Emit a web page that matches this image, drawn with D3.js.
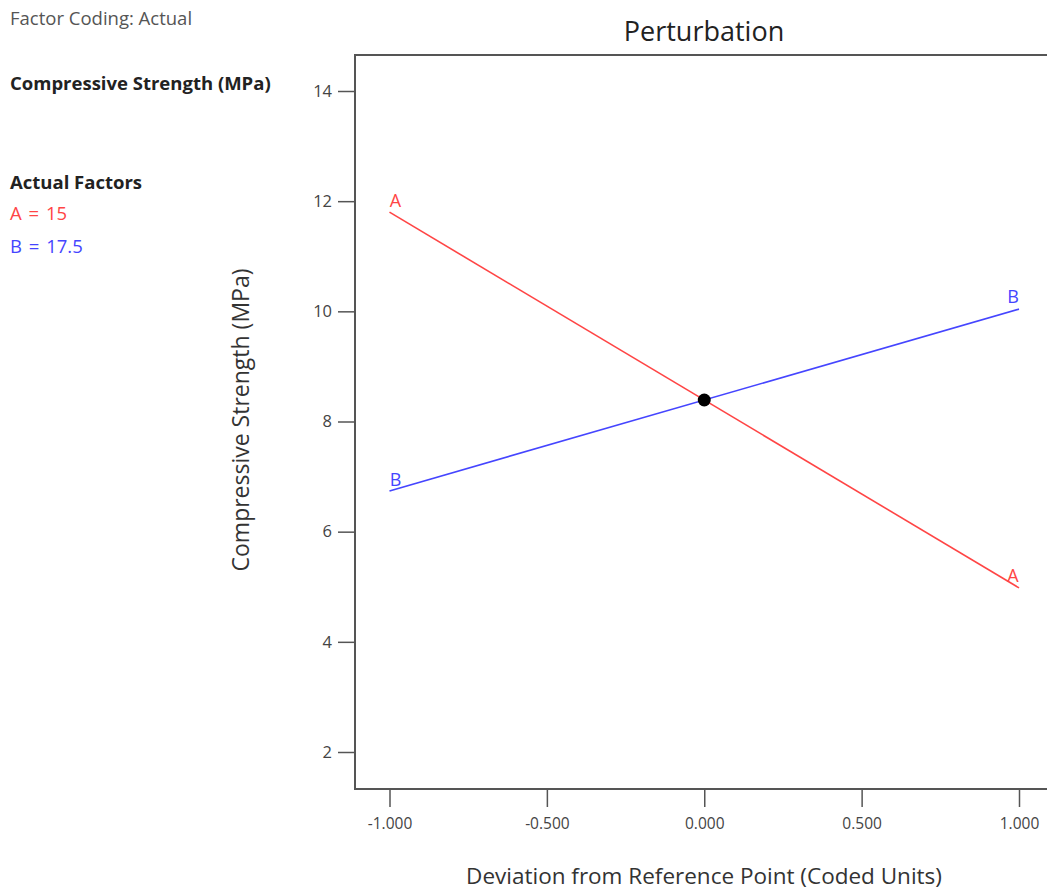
<!DOCTYPE html>
<html><head><meta charset="utf-8">
<script src="https://cdn.jsdelivr.net/npm/d3@7"></script>
<style>body{margin:0;background:#fff;overflow:hidden}text{font-family:"Open Sans","Noto Sans",sans-serif}</style>
</head><body><svg id="c" width="1047" height="892"></svg>
<script>
const xTicks = [-1, -0.5, 0, 0.5, 1];
const yTicks = [2, 4, 6, 8, 10, 12, 14];
const deviation = [-1, 1];
const seriesA = [11.80, 4.98];
const seriesB = [6.74, 10.04];
const refPoint = {x: 0, y: 8.39};
const factorNames = ["A", "B"];
const factorValues = ["15", "17.5"];
const colors = {A: "#ff4545", B: "#4545ff"};

const svg = d3.select("#c");
const L = 355, T = 55, B = 789, R = 1052;
const x = d3.scaleLinear().domain([-1, 1]).range([389.5, 1019]);
const y = d3.scaleLinear().domain([2, 14]).range([752, 91]);

svg.append("path").attr("d", `M${R},${T}H${L}V${B}H${R}`).attr("fill","none").attr("stroke","#555").attr("stroke-width",2);

const fmt = d => d3.format(".3f")(d).replace("\u2212","-");
const xa = svg.append("g").attr("transform",`translate(0,${B})`)
  .call(d3.axisBottom(x).tickValues(xTicks).tickFormat(fmt).tickSize(18).tickPadding(11));
xa.select(".domain").remove();
xa.selectAll("line").attr("stroke","#555").attr("stroke-width",1.5);
xa.selectAll("text").attr("font-size",15.5).attr("fill","#444").style("font-family","'Open Sans',sans-serif");

const ya = svg.append("g").attr("transform",`translate(${L},0)`)
  .call(d3.axisLeft(y).tickValues(yTicks).tickSize(17).tickPadding(6));
ya.select(".domain").remove();
ya.selectAll("line").attr("stroke","#555").attr("stroke-width",1.5);
ya.selectAll("text").attr("font-size",16.5).attr("fill","#444").style("font-family","'Open Sans',sans-serif");

const line = d3.line().x(d=>x(d[0])).y(d=>y(d[1]));
const series = [{k:"A", v:seriesA}, {k:"B", v:seriesB}];
series.forEach(s=>{
  const pts = deviation.map((d,i)=>[d, s.v[i]]);
  svg.append("path").attr("d", line(pts)).attr("fill","none").attr("stroke",colors[s.k]).attr("stroke-width",1.6);
  svg.append("text").attr("x", x(deviation[0])+6).attr("y", y(s.v[0])-5).attr("text-anchor","middle")
    .attr("font-size",18).attr("fill",colors[s.k]).text(s.k);
  svg.append("text").attr("x", x(deviation[1])-6).attr("y", y(s.v[1])-6).attr("text-anchor","middle")
    .attr("font-size",18).attr("fill",colors[s.k]).text(s.k);
});
svg.append("circle").attr("cx",x(refPoint.x)).attr("cy",y(refPoint.y)).attr("r",6.5).attr("fill","#000");

svg.append("text").attr("x",704).attr("y",41).attr("text-anchor","middle").attr("font-size",27).attr("fill","#222").text("Perturbation");
svg.append("text").attr("x",704).attr("y",884).attr("text-anchor","middle").attr("font-size",22.5).attr("fill","#333").text("Deviation from Reference Point (Coded Units)");
svg.append("text").attr("transform",`translate(249,420) rotate(-90)`).attr("text-anchor","middle").attr("font-size",23).attr("fill","#333").text("Compressive Strength (MPa)");

svg.append("text").attr("x",10).attr("y",25).attr("font-size",18.5).attr("fill","#555").text("Factor Coding: Actual");
svg.append("text").attr("x",10).attr("y",90).attr("font-size",18.5).attr("font-weight","bold").attr("fill","#222").text("Compressive Strength (MPa)");
svg.append("text").attr("x",10).attr("y",189).attr("font-size",18.5).attr("font-weight","bold").attr("fill","#222").text("Actual Factors");
factorNames.forEach((n,i)=>{
  svg.append("text").attr("x",10).attr("y",220+i*33).attr("font-size",18.5).attr("word-spacing",2).attr("fill",colors[n]).text(`${n} = ${factorValues[i]}`);
});
</script></body></html>
